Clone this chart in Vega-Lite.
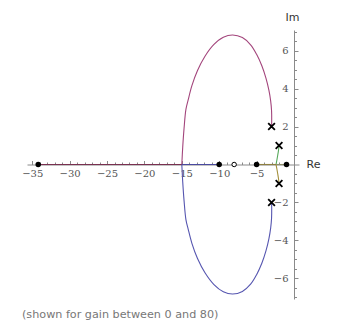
{
  "$schema": "https://vega.github.io/schema/vega-lite/v6.json",
  "width": 272,
  "height": 269,
  "autosize": {"type": "none"},
  "padding": {"left": 27, "top": 30, "right": 49, "bottom": 34},
  "background": "white",
  "config": {
    "view": {"stroke": null},
    "axis": {"grid": false, "domainColor": "#8a8a8a", "tickColor": "#8a8a8a", "labelColor": "#555555", "labelFlush": false, "labelOverlap": false}
  },
  "title": {
    "text": "(shown for gain between 0 and 80)",
    "orient": "bottom",
    "anchor": "start",
    "frame": "group",
    "offset": 10,
    "dx": -5,
    "font": "DejaVu Sans",
    "fontSize": 11.2,
    "fontWeight": "normal",
    "color": "#777777"
  },
  "datasets": {
    "locus": [
      {"branch": "upper", "i": 0, "re": -3.0, "im": 2.0},
      {"branch": "upper", "i": 1, "re": -2.98, "im": 2.3},
      {"branch": "upper", "i": 2, "re": -3.0, "im": 2.83},
      {"branch": "upper", "i": 3, "re": -3.12, "im": 3.35},
      {"branch": "upper", "i": 4, "re": -3.35, "im": 3.9},
      {"branch": "upper", "i": 5, "re": -3.75, "im": 4.55},
      {"branch": "upper", "i": 6, "re": -4.3, "im": 5.2},
      {"branch": "upper", "i": 7, "re": -5.0, "im": 5.8},
      {"branch": "upper", "i": 8, "re": -5.8, "im": 6.3},
      {"branch": "upper", "i": 9, "re": -6.9, "im": 6.68},
      {"branch": "upper", "i": 10, "re": -8.2, "im": 6.82},
      {"branch": "upper", "i": 11, "re": -9.45, "im": 6.7},
      {"branch": "upper", "i": 12, "re": -10.7, "im": 6.32},
      {"branch": "upper", "i": 13, "re": -11.9, "im": 5.7},
      {"branch": "upper", "i": 14, "re": -12.9, "im": 4.95},
      {"branch": "upper", "i": 15, "re": -13.65, "im": 4.15},
      {"branch": "upper", "i": 16, "re": -14.15, "im": 3.4},
      {"branch": "upper", "i": 17, "re": -14.45, "im": 2.9},
      {"branch": "upper", "i": 18, "re": -14.7, "im": 1.9},
      {"branch": "upper", "i": 19, "re": -14.88, "im": 0.9},
      {"branch": "upper", "i": 20, "re": -15.0, "im": 0.0},
      {"branch": "upperAxis", "i": 0, "re": -15.0, "im": 0.0},
      {"branch": "upperAxis", "i": 1, "re": -34.2, "im": 0.0},
      {"branch": "lower", "i": 0, "re": -3.0, "im": -2.0},
      {"branch": "lower", "i": 1, "re": -2.98, "im": -2.3},
      {"branch": "lower", "i": 2, "re": -3.0, "im": -2.83},
      {"branch": "lower", "i": 3, "re": -3.12, "im": -3.35},
      {"branch": "lower", "i": 4, "re": -3.35, "im": -3.9},
      {"branch": "lower", "i": 5, "re": -3.75, "im": -4.55},
      {"branch": "lower", "i": 6, "re": -4.3, "im": -5.2},
      {"branch": "lower", "i": 7, "re": -5.0, "im": -5.8},
      {"branch": "lower", "i": 8, "re": -5.8, "im": -6.3},
      {"branch": "lower", "i": 9, "re": -6.9, "im": -6.68},
      {"branch": "lower", "i": 10, "re": -8.2, "im": -6.82},
      {"branch": "lower", "i": 11, "re": -9.45, "im": -6.7},
      {"branch": "lower", "i": 12, "re": -10.7, "im": -6.32},
      {"branch": "lower", "i": 13, "re": -11.9, "im": -5.7},
      {"branch": "lower", "i": 14, "re": -12.9, "im": -4.95},
      {"branch": "lower", "i": 15, "re": -13.65, "im": -4.15},
      {"branch": "lower", "i": 16, "re": -14.15, "im": -3.4},
      {"branch": "lower", "i": 17, "re": -14.45, "im": -2.9},
      {"branch": "lower", "i": 18, "re": -14.7, "im": -1.9},
      {"branch": "lower", "i": 19, "re": -14.88, "im": -0.9},
      {"branch": "lower", "i": 20, "re": -15.0, "im": 0.0},
      {"branch": "lowerAxis", "i": 0, "re": -15.0, "im": 0.0},
      {"branch": "lowerAxis", "i": 1, "re": -10.0, "im": 0.0},
      {"branch": "green", "i": 0, "re": -2.0, "im": 1.0},
      {"branch": "green", "i": 1, "re": -2.07, "im": 0.75},
      {"branch": "green", "i": 2, "re": -2.17, "im": 0.5},
      {"branch": "green", "i": 3, "re": -2.28, "im": 0.25},
      {"branch": "green", "i": 4, "re": -2.4, "im": 0.0},
      {"branch": "olive", "i": 0, "re": -2.0, "im": -1.0},
      {"branch": "olive", "i": 1, "re": -2.07, "im": -0.75},
      {"branch": "olive", "i": 2, "re": -2.17, "im": -0.5},
      {"branch": "olive", "i": 3, "re": -2.28, "im": -0.25},
      {"branch": "olive", "i": 4, "re": -2.4, "im": 0.0},
      {"branch": "oliveAxis", "i": 0, "re": -2.4, "im": 0.0},
      {"branch": "oliveAxis", "i": 1, "re": -5.0, "im": 0.0},
      {"branch": "olive2", "i": 0, "re": -2.4, "im": 0.0},
      {"branch": "olive2", "i": 1, "re": -1.0, "im": 0.0}
    ],
    "pts": [
      {"kind": "pole", "re": -3.0, "im": 2.0},
      {"kind": "pole", "re": -3.0, "im": -2.0},
      {"kind": "pole", "re": -2.0, "im": 1.0},
      {"kind": "pole", "re": -2.0, "im": -1.0},
      {"kind": "end", "re": -34.2, "im": 0.0},
      {"kind": "end", "re": -10.0, "im": 0.0},
      {"kind": "end", "re": -5.0, "im": 0.0},
      {"kind": "end", "re": -1.0, "im": 0.0},
      {"kind": "zero", "re": -8.0, "im": 0.0}
    ]
  },
  "resolve": {"axis": {"x": "independent", "y": "independent"}},
  "layer": [
    {
      "data": {"name": "locus"},
      "transform": [{"filter": "indexof(['upper','lower','green','olive'], datum.branch) >= 0"}],
      "mark": {"type": "line", "strokeWidth": 1.1, "interpolate": "catmull-rom"},
      "encoding": {
        "x": {
          "field": "re", "type": "quantitative",
          "scale": {"domain": [-35.7, 0.67], "nice": false, "zero": false},
          "axis": {
            "orient": "bottom", "offset": -134.5,
            "values": [-35, -30, -25, -20, -15, -10, -5],
            "ticks": false, "domain": true, "labelPadding": 4,
            "labelFont": "DejaVu Serif", "labelFontSize": 10,
            "labelExpr": "datum.value < 0 ? '\u2212' + format(-datum.value, 'd') : datum.label",
            "title": "Re", "titleFont": "DejaVu Sans", "titleFontSize": 11, "titleFontWeight": "normal", "titleColor": "#333333",
            "titleAngle": 0, "titleX": 279, "titleY": 0, "titleAlign": "left", "titleBaseline": "middle"
          }
        },
        "y": {
          "field": "im", "type": "quantitative",
          "scale": {"domain": [-7.08, 7.08], "nice": false, "zero": false},
          "axis": {
            "orient": "left", "offset": -267,
            "values": [-6, -4, -2, 2, 4, 6],
            "ticks": false, "domain": true, "labelPadding": 6,
            "labelFont": "DejaVu Serif", "labelFontSize": 10,
            "labelExpr": "datum.value < 0 ? '\u2212' + format(-datum.value, 'd') : datum.label",
            "title": "Im", "titleFont": "DejaVu Sans", "titleFontSize": 11, "titleFontWeight": "normal", "titleColor": "#333333",
            "titleAngle": 0, "titleX": -2, "titleY": -13, "titleAlign": "center", "titleBaseline": "middle"
          }
        },
        "color": {
          "field": "branch", "type": "nominal", "legend": null,
          "scale": {"domain": ["upper", "upperAxis", "lower", "lowerAxis", "green", "olive", "oliveAxis", "olive2"], "range": ["#a3457c", "#7a3050", "#5656b0", "#4a4aa0", "#55a85a", "#a38f3a", "#8f8040", "#8f8f6a"]}
        },
        "order": {"field": "i", "type": "quantitative"}
      }
    },
    {
      "data": {"name": "locus"},
      "transform": [{"filter": "indexof(['upperAxis','lowerAxis','oliveAxis','olive2'], datum.branch) >= 0"}],
      "mark": {"type": "line", "strokeWidth": 1.1},
      "encoding": {
        "x": {"field": "re", "type": "quantitative", "scale": {"domain": [-35.7, 0.67], "nice": false, "zero": false}, "axis": null},
        "y": {"field": "im", "type": "quantitative", "scale": {"domain": [-7.08, 7.08], "nice": false, "zero": false}, "axis": null},
        "color": {
          "field": "branch", "type": "nominal", "legend": null,
          "scale": {"domain": ["upper", "upperAxis", "lower", "lowerAxis", "green", "olive", "oliveAxis", "olive2"], "range": ["#a3457c", "#7a3050", "#5656b0", "#4a4aa0", "#55a85a", "#a38f3a", "#8f8040", "#8f8f6a"]}
        },
        "order": {"field": "i", "type": "quantitative"}
      }
    },
    {
      "data": {"name": "pts"},
      "transform": [{"filter": "datum.kind == 'pole'"}],
      "mark": {"type": "point", "shape": "M-1,-1L1,1M-1,1L1,-1", "size": 45, "filled": false, "stroke": "black", "strokeWidth": 1.8, "opacity": 1},
      "encoding": {
        "x": {
          "field": "re", "type": "quantitative",
          "scale": {"domain": [-35.7, 0.67], "nice": false, "zero": false},
          "axis": {"orient": "bottom", "offset": -134.5, "values": [-35, -30, -25, -20, -15, -10, -5], "labels": false, "domain": false, "ticks": true, "tickSize": -4, "title": null}
        },
        "y": {
          "field": "im", "type": "quantitative",
          "scale": {"domain": [-7.08, 7.08], "nice": false, "zero": false},
          "axis": {"orient": "left", "offset": -267, "values": [-6, -4, -2, 2, 4, 6], "labels": false, "domain": false, "ticks": true, "tickSize": -4, "title": null}
        }
      }
    },
    {
      "data": {"name": "pts"},
      "transform": [{"filter": "datum.kind == 'end'"}],
      "mark": {"type": "point", "shape": "circle", "size": 30, "filled": true, "color": "black", "opacity": 1},
      "encoding": {
        "x": {
          "field": "re", "type": "quantitative",
          "scale": {"domain": [-35.7, 0.67], "nice": false, "zero": false},
          "axis": {"orient": "bottom", "offset": -134.5, "values": [-35, -34, -33, -32, -31, -29, -28, -27, -26, -24, -23, -22, -21, -19, -18, -17, -16, -14, -13, -12, -11, -9, -8, -7, -6, -4, -3, -2, -1], "labels": false, "domain": false, "ticks": true, "tickSize": -2.5, "title": null}
        },
        "y": {
          "field": "im", "type": "quantitative",
          "scale": {"domain": [-7.08, 7.08], "nice": false, "zero": false},
          "axis": {"orient": "left", "offset": -267, "values": [-7, -6.5, -5.5, -5, -4.5, -3.5, -3, -2.5, -1.5, -1, -0.5, 0.5, 1, 1.5, 2.5, 3, 3.5, 4.5, 5, 5.5, 6.5, 7], "labels": false, "domain": false, "ticks": true, "tickSize": -2.5, "title": null}
        }
      }
    },
    {
      "data": {"name": "pts"},
      "transform": [{"filter": "datum.kind == 'zero'"}],
      "mark": {"type": "point", "shape": "circle", "size": 20, "filled": true, "fill": "white", "stroke": "black", "strokeWidth": 1, "opacity": 1},
      "encoding": {
        "x": {"field": "re", "type": "quantitative", "scale": {"domain": [-35.7, 0.67], "nice": false, "zero": false}, "axis": null},
        "y": {"field": "im", "type": "quantitative", "scale": {"domain": [-7.08, 7.08], "nice": false, "zero": false}, "axis": null}
      }
    }
  ]
}
